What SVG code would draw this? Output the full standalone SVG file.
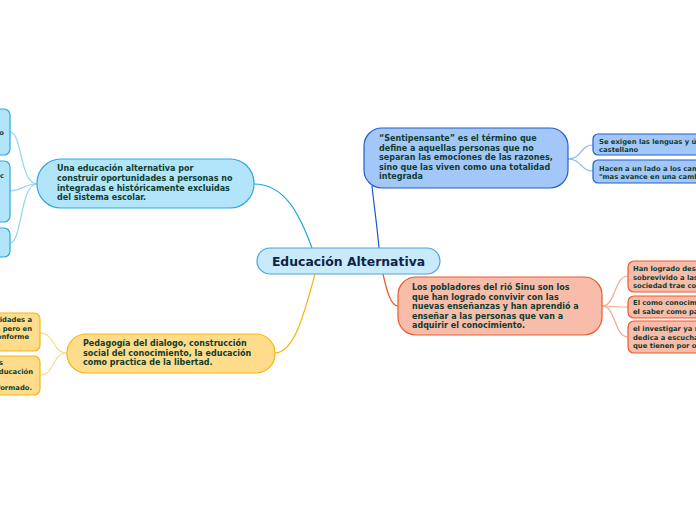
<svg xmlns="http://www.w3.org/2000/svg" width="696" height="520" viewBox="0 0 696 520">
<style>
text{font-family:"DejaVu Sans","Verdana",sans-serif;font-weight:bold;font-size:8px;fill:#0f3d2e}
.sm{font-size:6.8px}
.c{fill:none;stroke-width:1.2}
.blue{fill:#b2e4fa;stroke:#2ba9e0;stroke-width:1.2}
.dblue{fill:#a3c7f8;stroke:#2160c8;stroke-width:1.2}
.red{fill:#f8bcaa;stroke:#e95b2e;stroke-width:1.2}
.yel{fill:#fedc8c;stroke:#f6b60f;stroke-width:1.2}
</style>
<rect width="696" height="520" fill="#fff"/>
<g id="connectors">
<path class="c" stroke="#1ea7e1" d="M312,248 C300,215 285,184 254,184"/>
<path class="c" stroke="#1c5bc6" d="M379,248 C377,225 374,205 372,186"/>
<path class="c" stroke="#f8b400" d="M315,274 C305,310 295,353 275,353"/>
<path class="c" stroke="#e8562a" d="M383,274 C387,292 391,306 398,306"/>
<path class="c" stroke="#8fd5f4" d="M37,184 C20,184 22,132 10,132"/>
<path class="c" stroke="#8fd5f4" d="M37,184 C22,184 24,191 10,191"/>
<path class="c" stroke="#8fd5f4" d="M37,184 C20,184 22,243 10,243"/>
<path class="c" stroke="#fcd68a" d="M67,353 C52,353 55,333 40,333"/>
<path class="c" stroke="#fcd68a" d="M67,353 C52,353 55,375 40,375"/>
<path class="c" stroke="#90b5f2" d="M568,159 C582,159 580,145 593,145"/>
<path class="c" stroke="#90b5f2" d="M568,159 C582,159 580,171 593,171"/>
<path class="c" stroke="#f6a88e" d="M602,306 C616,306 614,276 628,276"/>
<path class="c" stroke="#f6a88e" d="M602,306 C616,306 614,307 628,307"/>
<path class="c" stroke="#f6a88e" d="M602,306 C616,306 614,337 628,337"/>
</g>
<g id="center">
<rect x="257" y="248" width="183" height="26" rx="13" fill="#c8eafb" stroke="#4aa6dc" stroke-width="1.2"/>
<text x="348.5" y="266" text-anchor="middle" style="font-size:12.4px;fill:#0e2448">Educación Alternativa</text>
</g>
<g id="n-left">
<rect class="blue" x="37" y="159" width="217" height="49" rx="24"/>
<text x="57" y="171">Una educación alternativa por</text>
<text x="57" y="181">construir oportunidades a personas no</text>
<text x="57" y="190.5">integradas e históricamente excluidas</text>
<text x="57" y="200">del sistema escolar.</text>
</g>
<g id="n-left-1">
<rect class="blue" x="-20" y="109" width="30" height="46" rx="6"/>
<text x="4" y="135" text-anchor="end" class="sm">o</text>
</g>
<g id="n-left-2">
<rect class="blue" x="-20" y="161" width="30" height="61" rx="6"/>
<text x="4" y="178" text-anchor="end" class="sm">c</text>
</g>
<g id="n-left-3">
<rect class="blue" x="-20" y="228" width="30" height="29" rx="6"/>
</g>
<g id="n-top">
<rect class="dblue" x="364" y="128" width="204" height="60" rx="18"/>
<text x="379" y="141">“Sentipensante” es el término que</text>
<text x="379" y="150.5">define a aquellas personas que no</text>
<text x="379" y="160">separan las emociones de las razones,</text>
<text x="379" y="169.5">sino que las viven como una totalidad</text>
<text x="379" y="179">integrada</text>
</g>
<g id="n-top-1">
<rect class="dblue" x="593" y="134" width="120" height="21" rx="5"/>
<text x="599" y="144" class="sm">Se exigen las lenguas y úni</text>
<text x="599" y="152" class="sm">castellano</text>
</g>
<g id="n-top-2">
<rect class="dblue" x="593" y="160" width="120" height="23" rx="5"/>
<text x="599" y="171" class="sm">Hacen a un lado a los camp</text>
<text x="599" y="179" class="sm">"mas avance en una cambi</text>
</g>
<g id="n-right">
<rect class="red" x="398" y="277" width="204" height="58" rx="18"/>
<text x="412" y="290">Los pobladores del rió Sinu son los</text>
<text x="412" y="299.5">que han logrado convivir con las</text>
<text x="412" y="309">nuevas enseñanzas y han aprendió a</text>
<text x="412" y="318.5">enseñar a las personas que van a</text>
<text x="412" y="328">adquirir el conocimiento.</text>
</g>
<g id="n-right-1">
<rect class="red" x="628" y="261" width="90" height="31" rx="6"/>
<text x="633" y="271" class="sm">Han logrado desa</text>
<text x="633" y="279.5" class="sm">sobrevivido a las</text>
<text x="633" y="288" class="sm">sociedad trae con</text>
</g>
<g id="n-right-2">
<rect class="red" x="628" y="296" width="90" height="22" rx="6"/>
<text x="633" y="305" class="sm">El como conocimi</text>
<text x="633" y="314" class="sm">el saber como par</text>
</g>
<g id="n-right-3">
<rect class="red" x="628" y="321" width="90" height="32" rx="6"/>
<text x="633" y="331" class="sm">el investigar ya n</text>
<text x="633" y="339.5" class="sm">dedica a escuchar</text>
<text x="633" y="348" class="sm">que tienen por ofi</text>
</g>
<g id="n-bottom">
<rect class="yel" x="67" y="334" width="208" height="39" rx="19"/>
<text x="83" y="346">Pedagogía del dialogo, construcción</text>
<text x="83" y="355.5">social del conocimiento, la educación</text>
<text x="83" y="365">como practica de la libertad.</text>
</g>
<g id="n-bottom-1">
<rect class="yel" x="-20" y="313" width="60" height="38" rx="6"/>
<text x="32" y="322" text-anchor="end" class="sm">idades a</text>
<text x="32" y="330.5" text-anchor="end" class="sm">, pero en</text>
<text x="29" y="339" text-anchor="end" class="sm">onforme</text>
</g>
<g id="n-bottom-2">
<rect class="yel" x="-20" y="356" width="60" height="39" rx="6"/>
<text x="3" y="365" text-anchor="end" class="sm">s</text>
<text x="33" y="373.5" text-anchor="end" class="sm">educación</text>
<text x="32" y="390" text-anchor="end" class="sm">formado.</text>
</g>
</svg>
